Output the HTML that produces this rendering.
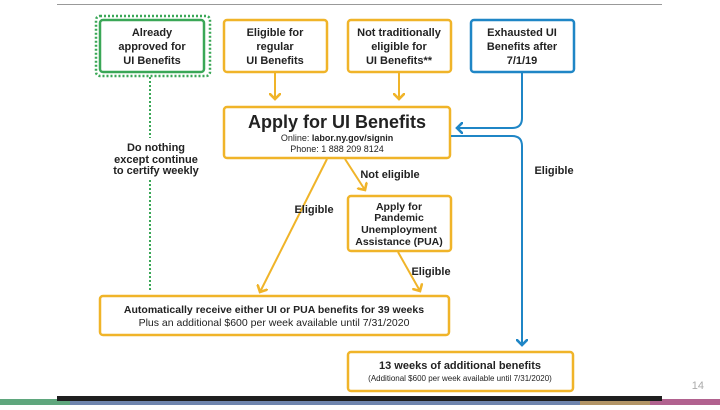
<!DOCTYPE html>
<html><head><style>
body{margin:0;width:720px;height:405px;overflow:hidden;background:#fff;font-family:"Liberation Sans",sans-serif;}
</style></head><body>
<svg width="720" height="405" viewBox="0 0 720 405" xmlns="http://www.w3.org/2000/svg" font-family="Liberation Sans, sans-serif" font-weight="bold" fill="#222">
<line x1="57" y1="4.5" x2="662" y2="4.5" stroke="#999" stroke-width="1"/>
<defs>
<marker id="ay" markerWidth="6" markerHeight="6" refX="3" refY="3" orient="auto"><path d="M0,0 L3,3 L0,6" fill="none" stroke="#f0b429" stroke-width="1.3"/></marker>
<marker id="ab" markerWidth="6" markerHeight="6" refX="3" refY="3" orient="auto"><path d="M0,0 L3,3 L0,6" fill="none" stroke="#1f86c6" stroke-width="1.3"/></marker>
</defs>
<g fill="none" stroke-width="2.5">
<rect x="96" y="16" width="114" height="60" rx="4" stroke="#3aa757" stroke-dasharray="2,2"/>
<rect x="100" y="20" width="104" height="52" rx="3" stroke="#3aa757"/>
<rect x="224" y="20" width="103" height="52" rx="3" stroke="#f0b429"/>
<rect x="348" y="20" width="103" height="52" rx="3" stroke="#f0b429"/>
<rect x="471" y="20" width="103" height="52" rx="3" stroke="#1f86c6"/>
<rect x="224" y="107" width="226" height="51" rx="3" stroke="#f0b429"/>
<rect x="348" y="196" width="103" height="55" rx="3" stroke="#f0b429"/>
<rect x="100" y="296" width="349" height="39" rx="3" stroke="#f0b429"/>
<rect x="348" y="352" width="225" height="39" rx="3" stroke="#f0b429"/>
<g stroke-width="2">
<line x1="150" y1="77" x2="150" y2="138" stroke="#3aa757" stroke-dasharray="2,2"/>
<line x1="150" y1="180" x2="150" y2="290" stroke="#3aa757" stroke-dasharray="2,2"/>
<line x1="275" y1="72" x2="275" y2="99" stroke="#f0b429" marker-end="url(#ay)"/>
<line x1="399" y1="72" x2="399" y2="99" stroke="#f0b429" marker-end="url(#ay)"/>
<line x1="327" y1="159" x2="260" y2="292" stroke="#f0b429" marker-end="url(#ay)"/>
<line x1="345" y1="159" x2="365" y2="190" stroke="#f0b429" marker-end="url(#ay)"/>
<line x1="398" y1="252" x2="420" y2="291" stroke="#f0b429" marker-end="url(#ay)"/>
<path d="M522,72 V118 Q522,128 512,128 H457" stroke="#1f86c6" marker-end="url(#ab)"/>
<path d="M451,136 H512 Q522,136 522,146 V345" stroke="#1f86c6" marker-end="url(#ab)"/>
</g></g>
<g text-anchor="middle" font-size="11">
<text x="152" y="36">Already</text><text x="152" y="50">approved for</text><text x="152" y="64">UI Benefits</text>
<text x="275" y="36">Eligible for</text><text x="275" y="50">regular</text><text x="275" y="64">UI Benefits</text>
<text x="399" y="36">Not traditionally</text><text x="399" y="50">eligible for</text><text x="399" y="64">UI Benefits**</text>
<text x="522" y="36">Exhausted UI</text><text x="522" y="50">Benefits after</text><text x="522" y="64">7/1/19</text>
<text x="337" y="128" font-size="18">Apply for UI Benefits</text>
<text x="337" y="141" font-size="9" font-weight="normal">Online: <tspan font-weight="bold">labor.ny.gov/signin</tspan></text>
<text x="337" y="152" font-size="9" font-weight="normal">Phone: 1 888 209 8124</text>
<text x="156" y="151">Do nothing</text><text x="156" y="163">except continue</text><text x="156" y="174">to certify weekly</text>
<text x="390" y="178">Not eligible</text>
<text x="554" y="174">Eligible</text>
<text x="314" y="213">Eligible</text>
<text x="399" y="210" font-size="10.5">Apply for</text><text x="399" y="221" font-size="10.5">Pandemic</text><text x="399" y="233" font-size="10.5">Unemployment</text><text x="399" y="245" font-size="10.5">Assistance (PUA)</text>
<text x="431" y="275">Eligible</text>
<text x="274" y="313" font-size="10.5">Automatically receive either UI or PUA benefits for 39 weeks</text>
<text x="274" y="326" font-size="10.5" font-weight="normal">Plus an additional $600 per week available until 7/31/2020</text>
<text x="460" y="369" font-size="11">13 weeks of additional benefits</text>
<text x="460" y="381" font-size="8" font-weight="normal">(Additional $600 per week available until 7/31/2020)</text>
</g>
<text x="704" y="389" font-size="11" font-weight="normal" fill="#aaa" text-anchor="end">14</text>
<rect x="0" y="399" width="720" height="6" fill="#6f85ae"/>
<rect x="0" y="399" width="70" height="6" fill="#5fa77d"/>
<rect x="580" y="399" width="70" height="6" fill="#b39566"/>
<rect x="650" y="399" width="70" height="6" fill="#b1628f"/>
<rect x="57" y="396" width="605" height="5" fill="#1f1f1f"/>
</svg>
</body></html>
